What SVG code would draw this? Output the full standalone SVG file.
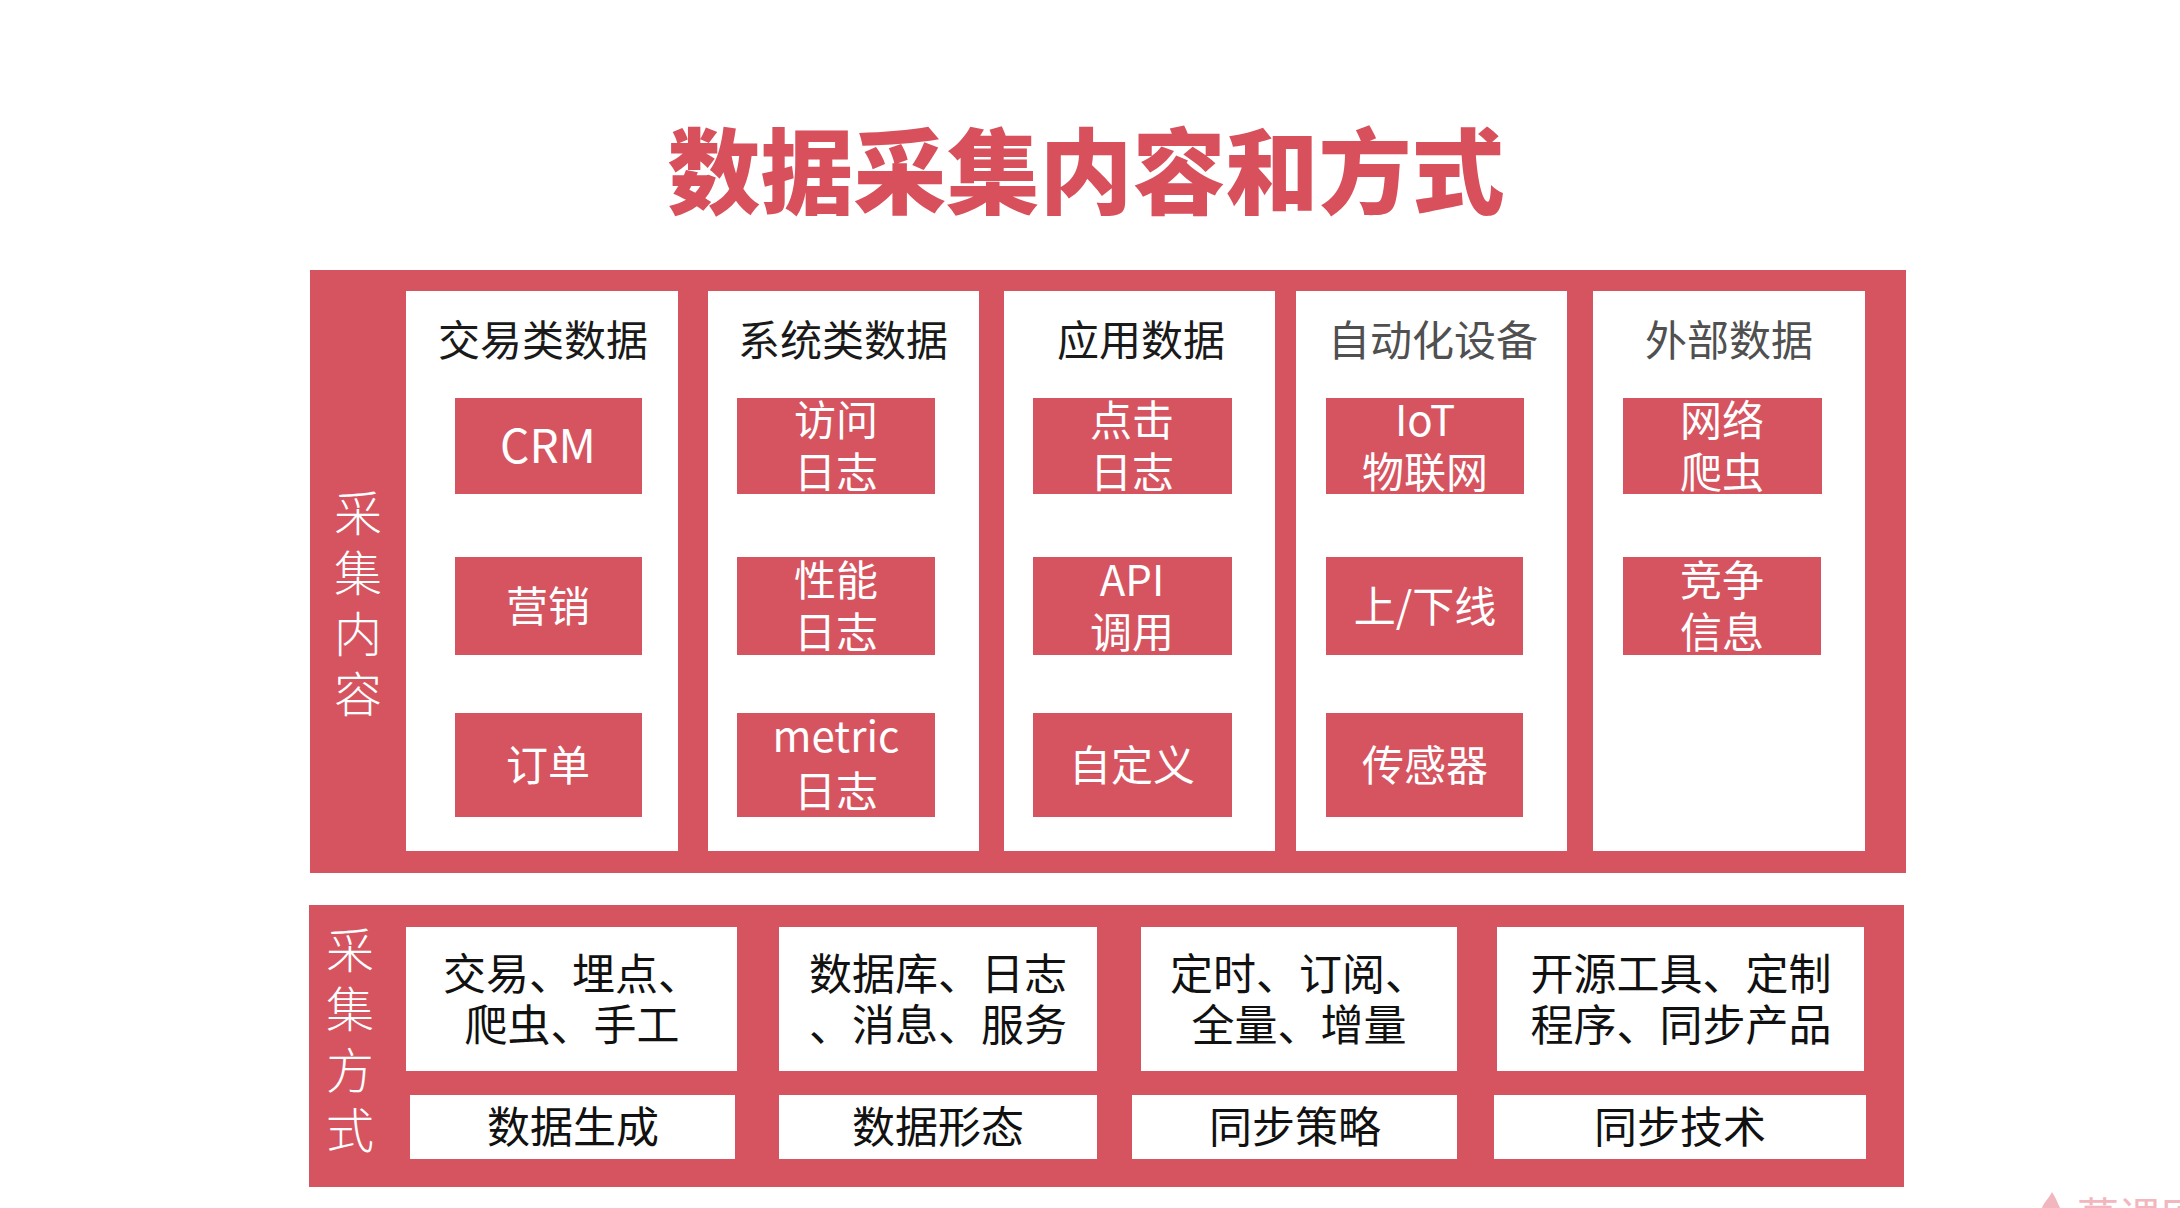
<svg xmlns="http://www.w3.org/2000/svg" width="2180" height="1208" viewBox="0 0 2180 1208">
<style>
.red{fill:#d6545f}
.wb{fill:#ffffff}
.title{font-family:"Noto Sans CJK SC",sans-serif;font-weight:900;font-size:93px;fill:#d8505c;text-anchor:middle}
.side{font-family:"Noto Sans CJK SC",serif;font-weight:300;font-size:48px;fill:#ffffff;text-anchor:middle}
.colt{font-family:"Noto Sans CJK SC",sans-serif;font-size:42px;fill:#1a1a1a;text-anchor:middle}
.colg{font-family:"Noto Sans CJK SC",sans-serif;font-size:42px;fill:#505050;text-anchor:middle}
.bt{font-family:"Noto Sans CJK SC",sans-serif;font-size:42px;fill:#ffffff;text-anchor:middle}
.crm{font-family:"Noto Sans CJK SC",sans-serif;font-size:46px;fill:#ffffff;text-anchor:middle}
.blk{font-family:"Noto Sans CJK SC",sans-serif;font-size:43px;fill:#111111;text-anchor:middle}
.wm{font-family:"Noto Sans CJK SC",sans-serif;font-size:42px;fill:#f2b6be}
</style>
<rect width="2180" height="1208" fill="#ffffff"/>
<text class="title" x="1086" y="207">数据采集内容和方式</text>

<g id="content-panel">
<rect class="red" x="310" y="270" width="1596" height="603"/>
<text class="side" x="358" y="531">采<tspan x="358" y="591">集</tspan><tspan x="358" y="652">内</tspan><tspan x="358" y="712">容</tspan></text>
</g>

<g id="col-trade">
<rect class="wb" x="406" y="291" width="272" height="560"/>
<text class="colt" x="543" y="356">交易类数据</text>
<rect class="red" x="455" y="398" width="187" height="96"/>
<text class="crm" x="548" y="463">CRM</text>
<rect class="red" x="455" y="557" width="187" height="98"/>
<text class="bt" x="548" y="622">营销</text>
<rect class="red" x="455" y="713" width="187" height="104"/>
<text class="bt" x="548" y="781">订单</text>
</g>

<g id="col-system">
<rect class="wb" x="708" y="291" width="271" height="560"/>
<text class="colt" x="843" y="356">系统类数据</text>
<rect class="red" x="737" y="398" width="198" height="96"/>
<text class="bt" x="836" y="436">访问<tspan x="836" y="488">日志</tspan></text>
<rect class="red" x="737" y="557" width="198" height="98"/>
<text class="bt" x="836" y="596">性能<tspan x="836" y="648">日志</tspan></text>
<rect class="red" x="737" y="713" width="198" height="104"/>
<text class="bt" x="836" y="752">metric<tspan x="836" y="807">日志</tspan></text>
</g>

<g id="col-app">
<rect class="wb" x="1004" y="291" width="271" height="560"/>
<text class="colt" x="1141" y="356">应用数据</text>
<rect class="red" x="1033" y="398" width="199" height="96"/>
<text class="bt" x="1132" y="436">点击<tspan x="1132" y="488">日志</tspan></text>
<rect class="red" x="1033" y="557" width="199" height="98"/>
<text class="bt" x="1132" y="596">API<tspan x="1132" y="648">调用</tspan></text>
<rect class="red" x="1033" y="713" width="199" height="104"/>
<text class="bt" x="1132" y="781">自定义</text>
</g>

<g id="col-device">
<rect class="wb" x="1296" y="291" width="271" height="560"/>
<text class="colg" x="1433" y="356">自动化设备</text>
<rect class="red" x="1326" y="398" width="198" height="96"/>
<text class="bt" x="1425" y="436">IoT<tspan x="1425" y="488">物联网</tspan></text>
<rect class="red" x="1326" y="557" width="197" height="98"/>
<text class="bt" x="1425" y="622">上/下线</text>
<rect class="red" x="1326" y="713" width="197" height="104"/>
<text class="bt" x="1425" y="781">传感器</text>
</g>

<g id="col-external">
<rect class="wb" x="1593" y="291" width="272" height="560"/>
<text class="colg" x="1729" y="356">外部数据</text>
<rect class="red" x="1623" y="398" width="199" height="96"/>
<text class="bt" x="1722" y="436">网络<tspan x="1722" y="488">爬虫</tspan></text>
<rect class="red" x="1623" y="557" width="198" height="98"/>
<text class="bt" x="1722" y="596">竞争<tspan x="1722" y="648">信息</tspan></text>
</g>

<g id="method-panel">
<rect class="red" x="309" y="905" width="1595" height="282"/>
<text class="side" x="350" y="968">采<tspan x="350" y="1027">集</tspan><tspan x="350" y="1088">方</tspan><tspan x="350" y="1148">式</tspan></text>
</g>

<g id="method-gen">
<rect class="wb" x="406" y="927" width="331" height="144"/>
<text class="blk" x="572" y="990">交易、埋点、<tspan x="572" y="1041">爬虫、手工</tspan></text>
<rect class="wb" x="410" y="1095" width="325" height="64"/>
<text class="blk" x="573" y="1143">数据生成</text>
</g>

<g id="method-form">
<rect class="wb" x="779" y="927" width="318" height="144"/>
<text class="blk" x="938" y="990">数据库、日志<tspan x="938" y="1041">、消息、服务</tspan></text>
<rect class="wb" x="779" y="1095" width="318" height="64"/>
<text class="blk" x="938" y="1143">数据形态</text>
</g>

<g id="method-sync">
<rect class="wb" x="1141" y="927" width="316" height="144"/>
<text class="blk" x="1299" y="990">定时、订阅、<tspan x="1299" y="1041">全量、增量</tspan></text>
<rect class="wb" x="1132" y="1095" width="325" height="64"/>
<text class="blk" x="1295" y="1143">同步策略</text>
</g>

<g id="method-tech">
<rect class="wb" x="1497" y="927" width="367" height="144"/>
<text class="blk" x="1681" y="990">开源工具、定制<tspan x="1681" y="1041">程序、同步产品</tspan></text>
<rect class="wb" x="1494" y="1095" width="372" height="64"/>
<text class="blk" x="1680" y="1143">同步技术</text>
</g>

<g id="connectors"></g>

<g id="watermark">
<path d="M2052 1192 C2048 1200 2040 1206 2042 1212 L2062 1212 C2058 1204 2056 1198 2052 1192 Z" fill="#f2b6be"/>
<text class="wm" x="2077" y="1233">慕课网</text>
</g>
</svg>
